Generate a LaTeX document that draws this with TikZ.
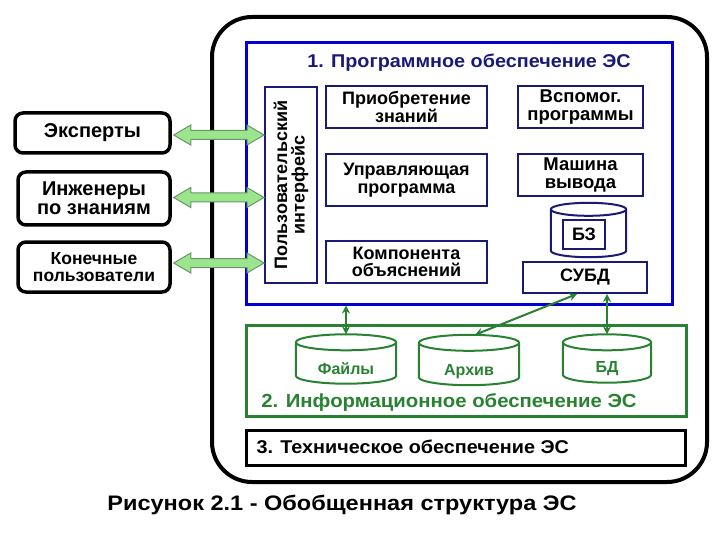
\documentclass[tikz,border=0pt]{standalone}
\usepackage{fontspec}
\setmainfont{Liberation Sans}
\newfontfamily\fA{Liberation Sans}[FakeStretch=1.07]
\newfontfamily\fB{Liberation Sans}[FakeStretch=1.12]
\usetikzlibrary{calc,arrows.meta,backgrounds}
\definecolor{navy}{RGB}{25,25,120}
\definecolor{eblue}{RGB}{0,0,210}
\definecolor{egreen}{RGB}{40,130,50}
\definecolor{lgreen}{RGB}{155,230,140}
\definecolor{agrey}{RGB}{105,150,105}
\newcommand\fatarrow[2]{%
  \draw[fat] let \p1=(#1), \p2=(#2) in
    (\x1,\y1) -- (\x1+17,\y1+10) -- (\x1+17,\y1+4.5) -- (\x2-17,\y1+4.5) -- (\x2-17,\y1+10)
    -- (\x2,\y1) -- (\x2-17,\y1-10) -- (\x2-17,\y1-4.5) -- (\x1+17,\y1-4.5) -- (\x1+17,\y1-10) -- cycle;}
\newcommand\drawcyl[3]{%
  \draw[cylline, draw=#3] let \p1=(#1.north west), \p2=(#1.south east), \n1={(\x2-\x1)/2} in
    (\x1,\y1-#2) -- (\x1,\y2+#2) arc[start angle=180, end angle=360, x radius=\n1, y radius=#2pt]
    -- (\x2,\y1-#2) arc[start angle=0, end angle=180, x radius=\n1, y radius=#2pt] -- cycle
    (\x1,\y1-#2) arc[start angle=180, end angle=360, x radius=\n1, y radius=#2pt];}
\begin{document}
\begin{tikzpicture}[x=1pt,y=-1pt,
  lbox/.style={draw, line width=3.5pt, rounded corners=8pt, align=center, inner sep=0pt, fill=white,
    font=\bfseries\fontsize{20}{19}\selectfont},
  ibox/.style={draw=navy, line width=2pt, align=center, inner sep=0pt,
    font=\bfseries\fontsize{18}{17.5}\selectfont},
  cylframe/.style={inner sep=0pt, text=egreen, font=\bfseries\fontsize{16}{16}\selectfont},
  cylline/.style={line width=2pt, fill=white},
  fat/.style={draw=agrey, fill=lgreen, line width=1pt, line join=miter},
  gconn/.style={draw=egreen, line width=2pt, {Stealth[length=8pt,width=8pt]}-{Stealth[length=8pt,width=8pt]}}
]
\useasboundingbox (0,0) rectangle (720,540);

% outer frame
\node[draw, line width=4pt, rounded corners=40pt, minimum width=495pt, minimum height=465pt, inner sep=0pt] (outer) at (459.5,249.5) {};

% software block
\node[draw=eblue, line width=3pt, minimum width=426pt, minimum height=261pt, inner sep=0pt] (blue) at (459,173.5) {};
\node[text=navy, font=\fA\bfseries\fontsize{18.5}{18}\selectfont] (t1) at (469,63) {1. Программное обеспечение ЭС};

\node[ibox, rotate=90, minimum width=196pt, minimum height=52pt] (iface) at (291,185) {Пользовательский\\интерфейс};

\node[ibox, minimum width=161pt, minimum height=42pt] (acq) at (406.5,107) {Приобретение\\знаний};
\node[ibox, minimum width=161pt, minimum height=52pt] (ctrl) at (406.5,180) {Управляющая\\программа};
\node[ibox, minimum width=161pt, minimum height=42pt] (expl) at (406.5,262) {Компонента\\объяснений};
\node[ibox, minimum width=125pt, minimum height=42pt, font=\bfseries\fontsize{18.5}{17.5}\selectfont] (aux) at (580.5,107) {Вспомог.\\программы};
\node[ibox, minimum width=125pt, minimum height=42pt, font=\bfseries\fontsize{18.5}{17.5}\selectfont] (infer) at (580.5,175) {Машина\\вывода};
\node[cylframe, minimum width=75pt, minimum height=54pt] (kbcyl) at (588.5,230) {};
\node[ibox, line width=1.2pt, minimum width=42pt, minimum height=29pt] (kb) at (584,234.5) {БЗ};
\node[ibox, minimum width=124pt, minimum height=31pt] (dbms) at (585,277.5) {СУБД};

% information block
\node[draw=egreen, line width=3pt, minimum width=440pt, minimum height=91pt, inner sep=0pt] (green) at (466,370.5) {};
\node[cylframe, minimum width=100pt, minimum height=49pt] (files) at (346,359) {\raisebox{-15.5pt}[0pt][0pt]{Файлы}};
\node[cylframe, minimum width=100pt, minimum height=50pt] (arch) at (469,360) {\raisebox{-15.5pt}[0pt][0pt]{Архив}};
\node[cylframe, minimum width=88pt, minimum height=48pt] (bd) at (607,358.5) {\raisebox{-13.5pt}[0pt][0pt]{БД}};
\node[text=egreen, font=\fA\bfseries\fontsize{19}{19}\selectfont] (t2) at (449,403) {2. Информационное обеспечение ЭС};

\begin{scope}[on background layer]
  \drawcyl{kbcyl}{6.5}{navy}
  \drawcyl{files}{8}{egreen}
  \drawcyl{arch}{8}{egreen}
  \drawcyl{bd}{8}{egreen}
\end{scope}

% technical block
\node[draw, line width=3pt, minimum width=439pt, minimum height=35pt, inner sep=0pt] (tech) at (465.5,447.5) {};
\node[anchor=west, font=\fA\bfseries\fontsize{18.5}{18}\selectfont] (t3) at (253,447) {3. Техническое обеспечение ЭС};

% people
\node[lbox, minimum width=155pt, minimum height=40pt] (exp) at (92.5,133) {Эксперты};
\node[lbox, minimum width=152pt, minimum height=53pt] (eng) at (94,198.5) {Инженеры\\по знаниям};
\node[lbox, minimum width=152pt, minimum height=50pt, font=\bfseries\fontsize{17.5}{17}\selectfont] (usr) at (94,267) {Конечные\\пользователи};

% fat arrows
\coordinate (a1) at ($(exp.east)+(2,2)$);
\coordinate (a2) at ($(eng.east)+(2,-1)$);
\coordinate (a3) at ($(usr.east)+(2,-4)$);
\fatarrow{a1}{iface.north |- a1}
\fatarrow{a2}{iface.north |- a2}
\fatarrow{a3}{iface.north |- a3}

% connectors
\draw[gconn] (files.north |- blue.south) -- (files.north);
\draw[gconn] ($(dbms.south)+(-8,0)$) -- ($(arch.north)+(6,0)$);
\draw[gconn] (bd.north |- dbms.south) -- (bd.north);

% caption
\node[font=\fB\bfseries\fontsize{21}{20}\selectfont] (cap) at (342,505) {Рисунок 2.1 - Обобщенная структура ЭС};
\end{tikzpicture}
\end{document}
